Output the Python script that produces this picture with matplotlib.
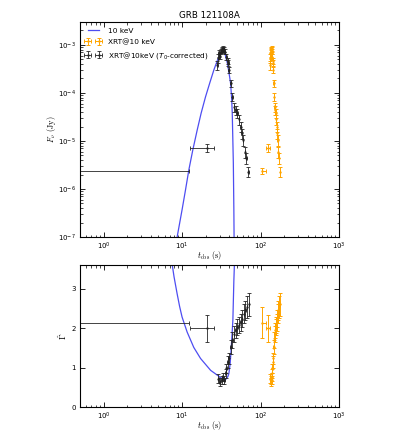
import numpy as np
import matplotlib
matplotlib.use("Agg")
import matplotlib.pyplot as plt

# ---------------- data ----------------
T0 = 105.0  # shift between XRT time and T0-corrected time (s)

# T0-corrected XRT flux at 10 keV
t_flux = [28.1, 28.9, 29.4, 30.0, 30.9, 31.9, 32.5, 33.0, 34.1, 35.1, 36.6, 38.1,
          38.8, 39.4, 41.5, 43.6, 45.7, 48.1, 50.6, 53.0, 55.7, 57.4, 59.6, 63.2,
          65.9, 69.9]
flux = [3.8e-4, 5.3e-4, 6.7e-4, 6.0e-4, 7.2e-4, 7.6e-4, 7.9e-4, 8.3e-4, 8.1e-4,
        7.2e-4, 5.7e-4, 4.6e-4, 4.2e-4, 3.0e-4, 1.6e-4, 8.3e-5, 5.1e-5, 4.4e-5,
        3.8e-5, 2.8e-5, 2.0e-5, 1.45e-5, 1.05e-5, 6.0e-6, 4.4e-6, 2.3e-6]
flux_rel_err = [0.2, 0.2, 0.15, 0.15, 0.12, 0.12, 0.12, 0.12, 0.12, 0.12, 0.15, 0.15,
                0.15, 0.15, 0.18, 0.2, 0.2, 0.2, 0.2, 0.22, 0.22, 0.25, 0.25, 0.25,
                0.25, 0.22]

# early, wide-binned points (T0-corrected): centre, lower/upper time error
t_early = [0.4, 20.9]
t_early_lo = [0.399, 8.1]
t_early_hi = [12.0, 4.3]
flux_early = [2.4e-6, 7.2e-6]
flux_early_err = [0.3e-6, 1.4e-6]
gam_early = [2.14, 2.0]
gam_early_err = [0.4, 0.34]

# T0-corrected photon index
t_gam = [28.9, 30.0, 31.9, 33.0, 34.5, 35.8, 36.8, 38.1, 39.4, 41.5, 43.6, 45.7,
         48.1, 50.6, 53.0, 55.7, 58.4, 61.3, 64.3, 67.5, 70.9]
gam = [0.72, 0.64, 0.68, 0.77, 0.68, 0.85, 0.98, 1.14, 1.23, 1.52, 1.69, 1.86,
       1.94, 2.03, 2.07, 2.15, 2.24, 2.37, 2.45, 2.53, 2.60]
gam_err = [0.12, 0.1, 0.1, 0.1, 0.1, 0.12, 0.12, 0.15, 0.15, 0.18, 0.2, 0.2,
           0.2, 0.2, 0.2, 0.22, 0.22, 0.25, 0.25, 0.28, 0.3]

# model curve (10 keV)
t_model_f = [8.65, 10.0, 11.05, 12.2, 13.7, 15.6, 17.5, 19.9, 22.6, 25.4, 28.1,
             30.9, 33.1, 35.1, 37.7, 39.4, 41.5, 42.7, 43.6, 45.0, 45.7, 46.0]
model_f = [1e-7, 3.7e-7, 9.5e-7, 2.5e-6, 6.5e-6, 1.7e-5, 3.8e-5, 8.3e-5, 1.64e-4,
           3.0e-4, 4.7e-4, 6.7e-4, 8.0e-4, 6.7e-4, 4.2e-4, 2.8e-4, 1.6e-4, 8.3e-5,
           3.8e-5, 3.5e-6, 3.7e-7, 1e-7]
t_model_g = [7.3, 7.9, 8.65, 9.3, 10.0, 11.6, 14.1, 17.2, 23.1, 28.0, 30.9, 33.0,
             34.5, 36.5, 38.5, 39.5, 41.0, 42.4, 44.4, 45.7, 46.7]
model_g = [3.75, 3.30, 2.87, 2.55, 2.28, 1.90, 1.51, 1.23, 0.93, 0.81, 0.75, 0.71,
           0.69, 0.71, 0.78, 0.85, 1.10, 1.52, 2.2, 3.2, 3.75]

xticks = [1, 10, 100, 1000]

# ---------------- figure ----------------
fig = plt.figure(figsize=(3.99, 4.43), dpi=100)
W, H = 399.0, 443.0
ax1 = fig.add_axes([80 / W, 1 - 237 / H, 259 / W, 215 / H])
ax2 = fig.add_axes([80 / W, 1 - 407 / H, 259 / W, 142 / H])

blue = '#3a3af0'
orange = 'orange'
black = '#222222'
ebkw = dict(capsize=1.5, elinewidth=0.7, capthick=0.7, markersize=1.5)

t_flux_a = np.array(t_flux)
flux_a = np.array(flux)
ferr = flux_a * np.array(flux_rel_err)
t_xrt = t_flux_a + T0

# top panel
ax1.plot(t_model_f, model_f, color=blue, lw=0.9, alpha=0.9, label='10 keV')
ax1.errorbar(t_xrt, flux_a, yerr=ferr, xerr=0.4, fmt='.', color=orange, ecolor=orange,
             label='XRT@10 keV', **ebkw)
ax1.errorbar(np.array(t_early) + T0, flux_early, yerr=flux_early_err,
             xerr=[t_early_lo, t_early_hi], fmt='.', color=orange, ecolor=orange, **ebkw)
ax1.errorbar(t_flux_a, flux_a, yerr=ferr, xerr=0.4, fmt='.', color=black, ecolor=black,
             alpha=0.85, label=r'XRT@10keV ($T_0$-corrected)', **ebkw)
ax1.errorbar(t_early, flux_early, yerr=flux_early_err, xerr=[t_early_lo, t_early_hi],
             fmt='.', color=black, ecolor=black, alpha=0.85, **ebkw)
ax1.set_xscale('log')
ax1.set_yscale('log')
ax1.set_xlim(0.5, 1000)
ax1.set_ylim(1e-7, 3e-3)
ax1.set_title('GRB 121108A', fontsize=6.3, pad=3)
ax1.set_ylabel(r'$F_{\nu}\ (\mathrm{Jy})$', fontsize=6, math_fontfamily='cm')
ax1.set_xlabel(r'$t_{\mathrm{obs}}\ (\mathrm{s})$', fontsize=6, math_fontfamily='cm')
ax1.yaxis.set_label_coords((52 - 80) / 259, 0.5)
ax1.xaxis.set_label_coords(0.5, (237 - 255) / 215)
ax1.yaxis.label.set_va('center')
ax1.xaxis.label.set_va('center')
leg = ax1.legend(loc='upper left', frameon=False, fontsize=5.3, numpoints=2,
                 handlelength=2.1, handletextpad=0.9, borderaxespad=0.35,
                 labelspacing=0.65)

# bottom panel
t_gam_a = np.array(t_gam)
ax2.plot(t_model_g, model_g, color=blue, lw=0.9, alpha=0.9)
ax2.errorbar(t_gam_a + T0, gam, yerr=gam_err, xerr=0.4, fmt='.', color=orange,
             ecolor=orange, **ebkw)
ax2.errorbar(np.array(t_early) + T0, gam_early, yerr=gam_early_err,
             xerr=[t_early_lo, t_early_hi], fmt='.', color=orange, ecolor=orange, **ebkw)
ax2.errorbar(t_gam_a, gam, yerr=gam_err, xerr=0.4, fmt='.', color=black, ecolor=black,
             alpha=0.85, **ebkw)
ax2.errorbar(t_early, gam_early, yerr=gam_early_err, xerr=[t_early_lo, t_early_hi],
             fmt='.', color=black, ecolor=black, alpha=0.85, **ebkw)
ax2.set_xscale('log')
ax2.set_xlim(0.5, 1000)
ax2.set_ylim(0, 3.6)
ax2.set_yticks([0, 1, 2, 3])
ax2.set_ylabel(r'$\hat{\Gamma}$', fontsize=6.5, math_fontfamily='cm')
ax2.set_xlabel(r'$t_{\mathrm{obs}}\ (\mathrm{s})$', fontsize=6, math_fontfamily='cm')
ax2.yaxis.set_label_coords((63 - 80) / 259, 0.5)
ax2.xaxis.set_label_coords(0.5, (407 - 425) / 142)
ax2.yaxis.label.set_va('center')
ax2.xaxis.label.set_va('center')

for ax in (ax1, ax2):
    ax.set_xticks(xticks)
    ax.tick_params(which='both', direction='in', top=True, right=True, labelsize=5,
                   pad=3)
    ax.tick_params(which='major', length=3.5, width=0.6)
    ax.tick_params(which='minor', length=1.8, width=0.5)
    for s in ax.spines.values():
        s.set_linewidth(0.8)
ax2.tick_params(axis='y', which='minor', left=False, right=False)

fig.savefig('out.png', dpi=100, facecolor='white')
